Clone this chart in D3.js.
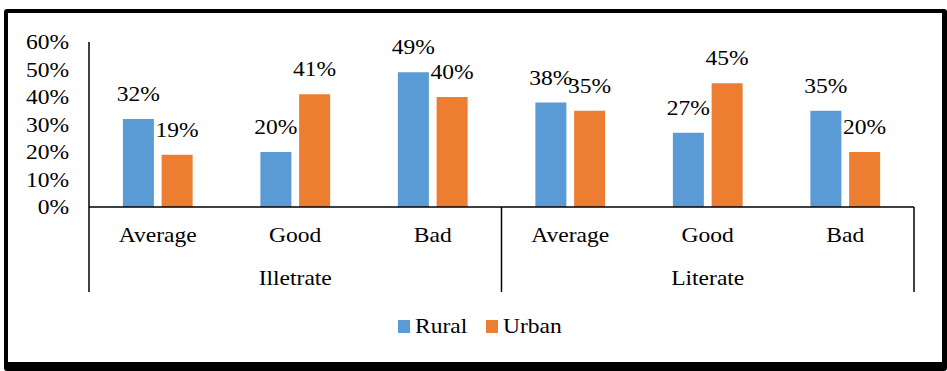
<!DOCTYPE html>
<html>
<head>
<meta charset="utf-8">
<script src="https://cdn.jsdelivr.net/npm/d3@7"></script>
<style>
  html, body { margin: 0; padding: 0; background: #fff; }
</style>
</head>
<body>
<svg id="chart" width="947" height="371"></svg>
<script>
// Literacy groups and the rating categories inside each
const groups = ["Illetrate", "Literate"];
const ratings = ["Average", "Good", "Bad"];
const seriesNames = ["Rural", "Urban"];
const rural = [0.32, 0.20, 0.49, 0.38, 0.27, 0.35];
const urban = [0.19, 0.41, 0.40, 0.35, 0.45, 0.20];
const yTicks = [0, 0.1, 0.2, 0.3, 0.4, 0.5, 0.6];
const colors = ["#5B9BD5", "#ED7D31"];

const FAMILY = "'Liberation Serif', Tinos, 'Times New Roman', serif";
const FONT = 21;
const STRETCH = 1.12;

const svg = d3.select("#chart");

// framed panel
svg.append("rect").attr("x", 4).attr("y", 9).attr("width", 943).attr("height", 362).attr("fill", "#000").attr("rx", 3);
svg.append("rect").attr("x", 8).attr("y", 13).attr("width", 934).attr("height", 349).attr("fill", "#fff");

const plotLeft = 89, plotRight = 914, plotTop = 42, base = 207, catBottom = 292;

// one slot per (group, rating)
const slots = [];
groups.forEach(g => ratings.forEach(r => slots.push(g + "|" + r)));
const rows = slots.map((s, i) => ({ key: s, group: s.split("|")[0], rating: s.split("|")[1], values: [rural[i], urban[i]] }));

const x0 = d3.scaleBand().domain(slots).range([plotLeft, plotRight]).paddingInner(0).paddingOuter(0);
const x1 = d3.scaleBand().domain(seriesNames).range([0, x0.bandwidth()]).paddingInner(0.2).paddingOuter(0.874);
const y = d3.scaleLinear().domain([0, 0.6]).range([base, plotTop]);

const pct = d3.format(".0%");

// serif face, slightly widened
function styleText(sel) {
  sel.style("font-family", FAMILY).style("font-size", FONT + "px").style("fill", "#000");
  sel.each(function () {
    const len = this.getComputedTextLength();
    d3.select(this).attr("textLength", len * STRETCH).attr("lengthAdjust", "spacingAndGlyphs");
  });
}

// y axis labels
const yAxis = d3.axisLeft(y).tickValues(yTicks).tickFormat(pct).tickSize(0).tickPadding(20);
const yg = svg.append("g").attr("transform", `translate(${plotLeft},0)`).call(yAxis);
yg.select(".domain").remove();
yg.selectAll("text").attr("dy", "0.33em").call(styleText);

// bars
const gBars = svg.append("g");
const bars = gBars.selectAll("g").data(rows).join("g").attr("transform", d => `translate(${x0(d.key)},0)`);
bars.selectAll("rect").data(d => d.values.map((v, i) => ({ name: seriesNames[i], v, i })))
  .join("rect")
  .attr("x", d => x1(d.name))
  .attr("width", x1.bandwidth())
  .attr("y", d => y(d.v))
  .attr("height", d => base - y(d.v))
  .attr("fill", d => colors[d.i]);

// value labels
bars.selectAll("text").data(d => d.values.map((v, i) => ({ name: seriesNames[i], v, i })))
  .join("text")
  .attr("x", d => x1(d.name) + x1.bandwidth() / 2)
  .attr("y", d => y(d.v) - 18)
  .attr("text-anchor", "middle")
  .text(d => pct(d.v))
  .call(styleText);

// axis lines
const axes = svg.append("g").attr("stroke", "#000").attr("stroke-width", 1.5).attr("fill", "none");
axes.append("line").attr("x1", plotLeft).attr("x2", plotLeft).attr("y1", plotTop).attr("y2", catBottom);
axes.append("line").attr("x1", plotLeft).attr("x2", plotRight).attr("y1", base).attr("y2", base);
const groupEdges = [plotLeft, x0(groups[1] + "|" + ratings[0]), plotRight];
groupEdges.slice(1).forEach(ex => axes.append("line").attr("x1", ex).attr("x2", ex).attr("y1", base).attr("y2", catBottom));

// category labels
svg.append("g").selectAll("text").data(rows).join("text")
  .attr("x", d => x0(d.key) + x0.bandwidth() / 2)
  .attr("y", 242)
  .attr("text-anchor", "middle")
  .text(d => d.rating)
  .call(styleText);

// group labels
svg.append("g").selectAll("text").data(groups).join("text")
  .attr("x", (g, i) => (groupEdges[i] + groupEdges[i + 1]) / 2)
  .attr("y", 285)
  .attr("text-anchor", "middle")
  .text(g => g)
  .call(styleText);

// legend
const legendX = [398, 486];
const lg = svg.append("g");
seriesNames.forEach((n, i) => {
  lg.append("rect").attr("x", legendX[i]).attr("y", 320).attr("width", 12).attr("height", 13).attr("fill", colors[i]);
  lg.append("text").attr("x", legendX[i] + 17).attr("y", 333).text(n).call(styleText);
});
</script>
</body>
</html>
